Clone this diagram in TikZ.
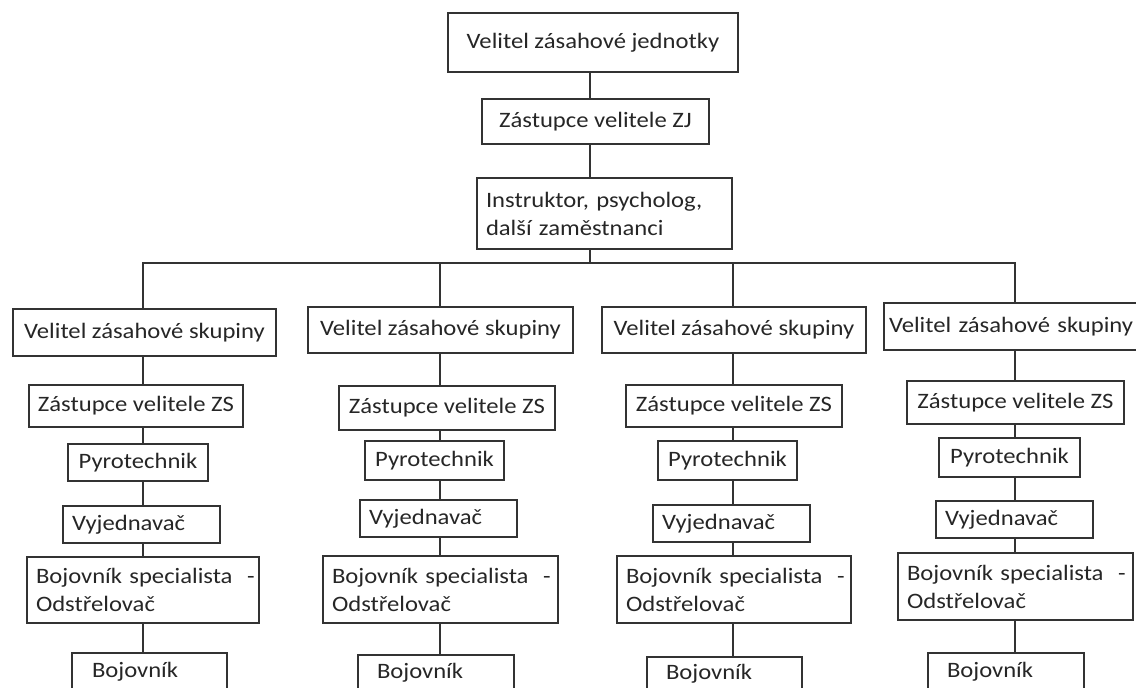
\documentclass[tikz,border=0pt]{standalone}
\usepackage{fontspec}
\setmainfont{Carlito}[FakeStretch=1.12]
\definecolor{linegray}{HTML}{333333}
\definecolor{textgray}{HTML}{262626}
\tikzset{
  unit/.style 2 args={draw=linegray, line width=1.3pt, rectangle, inner sep=0pt,
    minimum width=#1, minimum height=#2, text=textgray, align=center},
  link/.style={draw=linegray, line width=1.3pt}
}
\newcommand{\specialista}{\mbox{Bojovník specialista~~-}\\Odstřelovač}
\begin{document}
\begin{tikzpicture}[x=1pt, y=-1pt, font=\fontsize{22}{28}\selectfont]
  \useasboundingbox (0,0) rectangle (1136,688);
  \clip (0,0) rectangle (1136,688);
  % vedení jednotky
  \node[unit={290}{59}] (vzj) at (593,42.5) {Velitel zásahové jednotky};
  \node[unit={227}{45}] (zvzj) at (595.5,121.5) {Zástupce velitele ZJ};
  \node[unit={255}{71}, text width=237pt, align=left] (instr) at (604.5,213.5)
    {Instruktor, psycholog,\\ další zaměstnanci};
  \coordinate (trunk) at (590,263);
  \coordinate (c1) at (143,263);
  \coordinate (c2) at (440,263);
  \coordinate (c3) at (733,263);
  \coordinate (c4) at (1015,263);
  % 1. skupina
  \node[unit={263}{47}] (vzs1) at (144.5,332.5) {Velitel zásahové skupiny};
  \node[unit={214}{42}] (zvzs1) at (136,406) {Zástupce velitele ZS};
  \node[unit={140}{37}] (pyro1) at (138,462.5) {Pyrotechnik};
  \node[unit={157}{37}, text width=139pt, align=left] (vyj1) at (141.5,524.5) {Vyjednavač};
  \node[unit={232}{66}, text width=214pt, align=left] (bs1) at (143,590) {\specialista};
  \node[unit={155}{38}, text width=115pt, align=left] (boj1) at (149.5,672) {Bojovník};
  % 2. skupina
  \node[unit={265}{46}] (vzs2) at (440.5,330) {Velitel zásahové skupiny};
  \node[unit={216}{44}] (zvzs2) at (447,408) {Zástupce velitele ZS};
  \node[unit={139}{39}] (pyro2) at (434.5,460.5) {Pyrotechnik};
  \node[unit={157}{37}, text width=139pt, align=left] (vyj2) at (438.5,518.5) {Vyjednavač};
  \node[unit={235}{67}, text width=217pt, align=left] (bs2) at (440.5,589.5) {\specialista};
  \node[unit={156}{36}, text width=118pt, align=left] (boj2) at (436,673) {Bojovník};
  % 3. skupina
  \node[unit={264}{46}] (vzs3) at (734,330) {Velitel zásahové skupiny};
  \node[unit={216}{42}] (zvzs3) at (734,406) {Zástupce velitele ZS};
  \node[unit={139}{39}] (pyro3) at (727.5,460.5) {Pyrotechnik};
  \node[unit={157}{37}, text width=139pt, align=left] (vyj3) at (731.5,523.5) {Vyjednavač};
  \node[unit={234}{67}, text width=216pt, align=left] (bs3) at (734,589.5) {\specialista};
  \node[unit={155}{34}, text width=117pt, align=left] (boj3) at (724.5,674) {Bojovník};
  % 4. skupina
  \node[unit={261}{47}, text width=251pt, align=left] (vzs4) at (1014.5,326.5) {Velitel zásahové skupiny};
  \node[unit={217}{43}] (zvzs4) at (1015.5,402.5) {Zástupce velitele ZS};
  \node[unit={141}{39}] (pyro4) at (1009.5,457.5) {Pyrotechnik};
  \node[unit={157}{37}, text width=139pt, align=left] (vyj4) at (1014.5,519.5) {Vyjednavač};
  \node[unit={235}{67}, text width=217pt, align=left] (bs4) at (1015.5,586.5) {\specialista};
  \node[unit={156}{38}, text width=118pt, align=left] (boj4) at (1006,672) {Bojovník};
  % spojnice
  \draw[link] (vzj.south -| trunk) -- (zvzj.north -| trunk);
  \draw[link] (zvzj.south -| trunk) -- (instr.north -| trunk);
  \draw[link] (instr.south -| trunk) -- (trunk);
  \draw[link] (vzs1.north -| c1) -- (c1) -- (c4) -- (vzs4.north -| c4);
  \draw[link] (c2) -- (vzs2.north -| c2);
  \draw[link] (c3) -- (vzs3.north -| c3);
  \foreach \c in {1,2,3,4} {
    \draw[link] (vzs\c.south -| c\c) -- (zvzs\c.north -| c\c);
    \draw[link] (zvzs\c.south -| c\c) -- (pyro\c.north -| c\c);
    \draw[link] (pyro\c.south -| c\c) -- (vyj\c.north -| c\c);
    \draw[link] (vyj\c.south -| c\c) -- (bs\c.north -| c\c);
    \draw[link] (bs\c.south -| c\c) -- (boj\c.north -| c\c);
  }
\end{tikzpicture}
\end{document}
